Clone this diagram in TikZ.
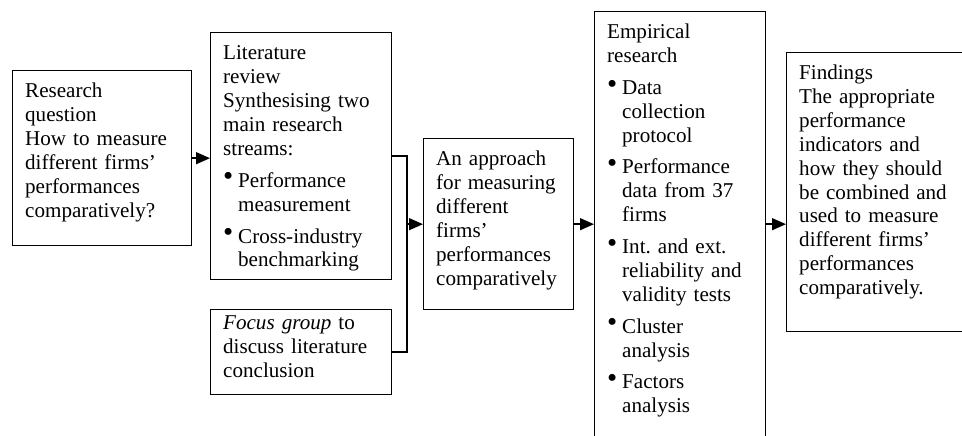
\documentclass[tikz,border=0pt]{standalone}
\usepackage{fontspec}
\setmainfont{Liberation Serif}
\usetikzlibrary{arrows.meta}

% bullet and hanging indent for list lines
\newcommand{\bul}{\makebox[0.3cm][l]{\raisebox{0.7pt}{\fontsize{16.5}{16.5}\selectfont\textbullet}}}
\newcommand{\cont}{\hspace*{0.3cm}}

\tikzset{
  stagebox/.style={draw, rectangle, line width=0.8pt, anchor=north west,
    align=left, inner xsep=0.25cm, inner ysep=6.3pt, text height=9pt,
    font=\fontsize{12}{13.6}\selectfont},
  link/.style={line width=0.8pt},
}

\begin{document}
\begin{tikzpicture}[x=1cm,y=1cm,>={Triangle[length=0.28cm,width=0.24cm]}]
\useasboundingbox (0,0) rectangle (19.24,8.72);
\clip (0,0) rectangle (19.24,8.72);

\node[stagebox, text width=3.08cm, text depth=2.74cm] (question) at (0.24,7.32)
  {Research\\question\\How to measure\\different firms'\\performances\\comparatively?};
\node[stagebox, text width=3.12cm, text depth=4.18cm] (lit) at (4.20,8.08)
  {Literature\\review\\Synthesising two\\main research\\streams:\\[4.6pt]
   \bul Performance\\\cont measurement\\[4.6pt]
   \bul Cross-industry\\\cont benchmarking};
\node[stagebox, text width=3.12cm, text height=5pt, text depth=1.08cm] (focus) at (4.20,2.54)
  {\textit{Focus group} to\\discuss literature\\conclusion};
\node[stagebox, text width=2.50cm, text depth=2.66cm] (approach) at (8.46,5.96)
  {An approach\\for measuring\\different\\firms'\\performances\\comparatively};
\node[stagebox, text width=2.92cm, text depth=8.64cm] (empirical) at (11.88,8.50)
  {Empirical\\research\\[4.5pt]
   \bul Data\\\cont collection\\\cont protocol\\[4.5pt]
   \bul Performance\\\cont data from 37\\\cont firms\\[4.5pt]
   \bul Int.\ and ext.\\\cont reliability and\\\cont validity tests\\[4.5pt]
   \bul Cluster\\\cont analysis\\[4.5pt]
   \bul Factors\\\cont analysis};
\node[stagebox, text width=3.38cm, text depth=4.82cm] (findings) at (15.72,7.68)
  {Findings\\The appropriate\\performance\\indicators and\\how they should\\be combined and\\used to measure\\different firms'\\performances\\comparatively.};

% literature and focus group join before the approach
\coordinate (join) at ([xshift=-0.32cm]approach.west);
\draw[link] (lit.east) -| (join) |- (focus.east);

\draw[link,->] (question.east) -- (question.east -| lit.west);
\draw[link,->] (join) -- (approach.west);
\draw[link,->] (approach.east) -- (approach.east -| empirical.west);
\draw[link,->] (empirical.east |- approach.east) -- (findings.west |- approach.east);
\end{tikzpicture}
\end{document}
